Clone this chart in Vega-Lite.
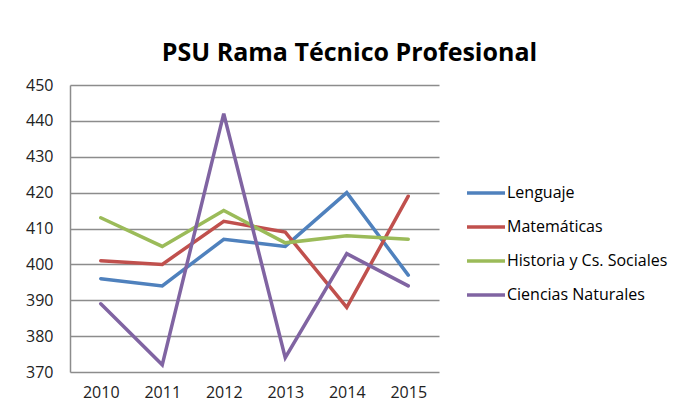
{
  "$schema": "https://vega.github.io/schema/vega-lite/v6.json",
  "width": 369,
  "height": 287,
  "autosize": {"type": "none"},
  "padding": {"left": 70, "top": 85, "right": 253, "bottom": 39},
  "background": "white",
  "title": {
    "text": "PSU Rama Técnico Profesional",
    "font": "Open Sans",
    "fontWeight": "bold",
    "fontSize": 25,
    "color": "#000000",
    "anchor": "middle",
    "dx": 95,
    "offset": 11
  },
  "data": {
    "values": [
      {"year": "2010", "serie": "Lenguaje", "value": 396},
      {"year": "2011", "serie": "Lenguaje", "value": 394},
      {"year": "2012", "serie": "Lenguaje", "value": 407},
      {"year": "2013", "serie": "Lenguaje", "value": 405},
      {"year": "2014", "serie": "Lenguaje", "value": 420},
      {"year": "2015", "serie": "Lenguaje", "value": 397},
      {"year": "2010", "serie": "Matemáticas", "value": 401},
      {"year": "2011", "serie": "Matemáticas", "value": 400},
      {"year": "2012", "serie": "Matemáticas", "value": 412},
      {"year": "2013", "serie": "Matemáticas", "value": 409},
      {"year": "2014", "serie": "Matemáticas", "value": 388},
      {"year": "2015", "serie": "Matemáticas", "value": 419},
      {"year": "2010", "serie": "Historia y Cs. Sociales", "value": 413},
      {"year": "2011", "serie": "Historia y Cs. Sociales", "value": 405},
      {"year": "2012", "serie": "Historia y Cs. Sociales", "value": 415},
      {"year": "2013", "serie": "Historia y Cs. Sociales", "value": 406},
      {"year": "2014", "serie": "Historia y Cs. Sociales", "value": 408},
      {"year": "2015", "serie": "Historia y Cs. Sociales", "value": 407},
      {"year": "2010", "serie": "Ciencias Naturales", "value": 389},
      {"year": "2011", "serie": "Ciencias Naturales", "value": 372},
      {"year": "2012", "serie": "Ciencias Naturales", "value": 442},
      {"year": "2013", "serie": "Ciencias Naturales", "value": 374},
      {"year": "2014", "serie": "Ciencias Naturales", "value": 403},
      {"year": "2015", "serie": "Ciencias Naturales", "value": 394}
    ]
  },
  "mark": {"type": "line", "strokeWidth": 3.5, "strokeCap": "round", "strokeJoin": "miter"},
  "encoding": {
    "x": {
      "field": "year",
      "type": "ordinal",
      "scale": {"type": "point", "padding": 0.5},
      "axis": {
        "title": null,
        "labelAngle": 0,
        "ticks": false,
        "domain": false,
        "grid": false,
        "labelPadding": 12,
        "labelFont": "Open Sans",
        "labelFontSize": 16,
        "labelColor": "#222222"
      }
    },
    "y": {
      "field": "value",
      "type": "quantitative",
      "scale": {"domain": [370, 450], "nice": false, "zero": false},
      "axis": {
        "title": null,
        "values": [370, 380, 390, 400, 410, 420, 430, 440, 450],
        "ticks": false,
        "domain": true,
        "domainColor": "#8c8c8c",
        "domainWidth": 1.5,
        "grid": true,
        "gridColor": "#8c8c8c",
        "gridWidth": 1.5,
        "labelPadding": 17,
        "labelFont": "Open Sans",
        "labelFontSize": 16,
        "labelColor": "#222222"
      }
    },
    "color": {
      "field": "serie",
      "type": "nominal",
      "sort": ["Lenguaje", "Matemáticas", "Historia y Cs. Sociales", "Ciencias Naturales"],
      "scale": {
        "domain": ["Lenguaje", "Matemáticas", "Historia y Cs. Sociales", "Ciencias Naturales"],
        "range": ["#4F81BD", "#C0504D", "#9BBB59", "#8064A2"]
      },
      "legend": {
        "title": null,
        "orient": "none",
        "legendX": 395,
        "legendY": 87,
        "padding": 0,
        "symbolType": "stroke",
        "symbolSize": 1444,
        "symbolStrokeWidth": 3.5,
        "labelOffset": 0,
        "rowPadding": 5,
        "labelLimit": 0,
        "labelFont": "Open Sans",
        "labelFontSize": 16,
        "labelColor": "#000000"
      }
    }
  },
  "config": {
    "view": {"stroke": null}
  }
}
